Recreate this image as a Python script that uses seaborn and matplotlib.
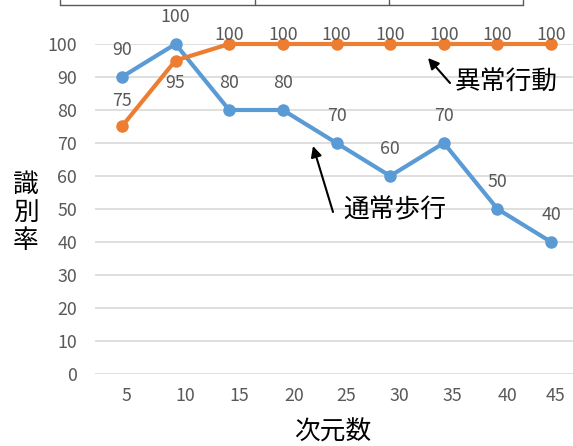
import matplotlib
matplotlib.use("Agg")
import matplotlib.pyplot as plt
import matplotlib.transforms as mtransforms
from matplotlib.lines import Line2D
import numpy as np
import pandas as pd
import seaborn as sns

# ---- data ----
dims = [5, 10, 15, 20, 25, 30, 35, 40, 45]
normal_rate = [90, 100, 80, 80, 70, 60, 70, 50, 40]
abnormal_rate = [75, 95, 100, 100, 100, 100, 100, 100, 100]
series_names = ["通常歩行", "異常行動"]
y_ticks = list(range(0, 101, 10))

# ---- style ----
sns.set_theme(style="white")
plt.rcParams["font.family"] = ["Noto Sans CJK JP", "DejaVu Sans"]

W, H = 573, 446
BLUE, ORANGE = "#5B9BD5", "#ED7D31"
TXT = "#595959"
PT = 72 / 100  # points per pixel at dpi=100
NUM_FS = 12.8

fig = plt.figure(figsize=(W / 100, H / 100), dpi=100)
fig.patch.set_facecolor("white")
ax = fig.add_axes([95 / W, (H - 374) / H, (578 - 95) / W, 330 / H])

n = len(dims)
df = pd.DataFrame({
    "pos": list(range(n)) * 2,
    "rate": normal_rate + abnormal_rate,
    "series": [series_names[0]] * n + [series_names[1]] * n,
})
sns.lineplot(data=df, x="pos", y="rate", hue="series", hue_order=series_names,
             palette={series_names[0]: BLUE, series_names[1]: ORANGE},
             marker="o", markersize=9, markeredgewidth=0, linewidth=3,
             legend=False, sort=False, ax=ax, clip_on=False)

ax.set_xlim(-0.5, n - 0.5)
ax.set_ylim(0, 100)
ax.set_yticks(y_ticks)
ax.set_xticks(range(n))
ax.set_xticklabels([str(d) for d in dims])
ax.yaxis.grid(True, color="#D9D9D9", linewidth=1.2)
ax.xaxis.grid(False)
for s in ax.spines.values():
    s.set_visible(False)
ax.tick_params(axis="both", length=0, labelsize=NUM_FS, labelcolor=TXT)
ax.tick_params(axis="y", pad=13)
ax.tick_params(axis="x", pad=9.5)
ax.set_xlabel("")
ax.set_ylabel("")

# category labels sit slightly right of their points
label_shift_px = [5, 10, 10, 11, 10, 9, 9, 10, 4]
for lab, dx in zip(ax.get_xticklabels(), label_shift_px):
    lab.set_transform(lab.get_transform() +
                      mtransforms.ScaledTranslation(dx / 100, 0, fig.dpi_scale_trans))

# value labels
normal_off = [27] * n
abnormal_off = [25, -22] + [9] * (n - 2)
for vals, offs in ((normal_rate, normal_off), (abnormal_rate, abnormal_off)):
    for i, (v, o) in enumerate(zip(vals, offs)):
        ax.annotate(str(v), (i, v), xytext=(0, o * PT), textcoords="offset points",
                    ha="center", va="center", fontsize=NUM_FS, color=TXT,
                    annotation_clip=False)

# axis titles
fig.text(26 / W, 1 - 213 / H, "識\n別\n率", ha="center", va="center",
         fontsize=18.5, linespacing=1.12, color="black")
fig.text(333 / W, 1 - 433 / H, "次元数", ha="center", va="center",
         fontsize=18.5, color="black")

# callouts
def px(x, y):
    return (x, H - y)

fig.text(455 / W, 1 - 83 / H, series_names[1], ha="left", va="center",
         fontsize=18.5, color="black")
ax.annotate("", xy=px(428, 58), xytext=px(450, 83),
            xycoords="figure pixels", textcoords="figure pixels",
            arrowprops=dict(arrowstyle="-|>", color="black", lw=1.5,
                            mutation_scale=16, shrinkA=0, shrinkB=0),
            annotation_clip=False)
fig.text(343 / W, 1 - 210 / H, series_names[0], ha="left", va="center",
         fontsize=18.5, color="black")
ax.annotate("", xy=px(313, 146), xytext=px(333, 212),
            xycoords="figure pixels", textcoords="figure pixels",
            arrowprops=dict(arrowstyle="-|>", color="black", lw=1.5,
                            mutation_scale=16, shrinkA=0, shrinkB=0),
            annotation_clip=False)

# frame fragment along the top edge
edge_c = "#595959"
fig.add_artist(Line2D([60 / W, 523 / W], [1 - 4.5 / H, 1 - 4.5 / H],
                      transform=fig.transFigure, color=edge_c, lw=1))
for xv in (60, 255, 388.5, 523):
    fig.add_artist(Line2D([xv / W, xv / W], [1 - 4.5 / H, 1.0],
                          transform=fig.transFigure, color=edge_c, lw=1))

fig.savefig("out.png", dpi=100)
